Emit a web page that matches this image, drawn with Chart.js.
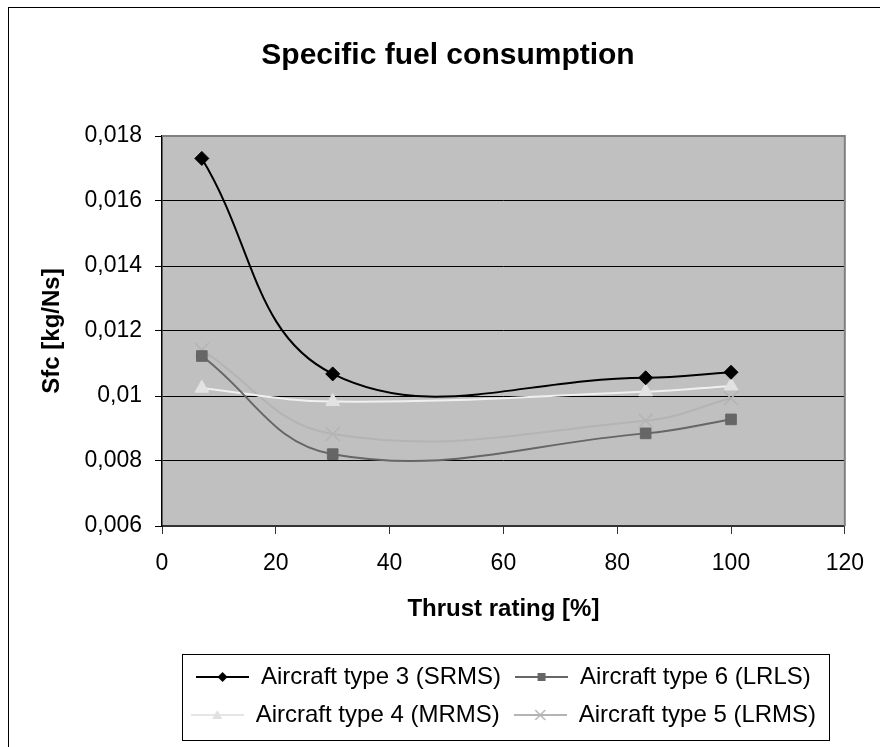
<!DOCTYPE html>
<html>
<head>
<meta charset="utf-8">
<script src="https://cdn.jsdelivr.net/npm/chart.js@4"></script>
<style>
  html, body { margin: 0; padding: 0; background: #fff; overflow: hidden; }
  #frame { position: absolute; left: 8px; top: 7px; width: 900px; height: 800px;
           border-left: 1px solid #000; border-top: 1px solid #000; }
  #wrap { position: absolute; left: 0; top: 0; width: 880px; height: 747px; }
</style>
</head>
<body>
<div id="frame"></div>
<div id="wrap"><canvas id="sfcChart" width="880" height="747"></canvas></div>
<script>
// Specific fuel consumption vs thrust rating
const thrust = [7, 30, 85, 100];
const sfcType3 = [0.01731, 0.01068, 0.01056, 0.01073];
const sfcType6 = [0.01123, 0.00821, 0.00885, 0.00928];
const sfcType4 = [0.01024, 0.00983, 0.01013, 0.01031];
const sfcType5 = [0.01142, 0.00883, 0.00924, 0.00993];
const seriesNames = ['Aircraft type 3 (SRMS)', 'Aircraft type 6 (LRLS)',
                     'Aircraft type 4 (MRMS)', 'Aircraft type 5 (LRMS)'];
const xTicks = [0, 20, 40, 60, 80, 100, 120];
const yTicks = [0.006, 0.008, 0.01, 0.012, 0.014, 0.016, 0.018];

const FONT = 'Liberation Sans';

function points(ys) {
  return thrust.map((x, i) => ({ x: x, y: ys[i] }));
}

// small line+marker images for the legend, like Excel draws them
function legendIcon(lineColor, markerColor, kind) {
  const c = document.createElement('canvas');
  c.width = 53;
  c.height = 24;
  const g = c.getContext('2d');
  g.strokeStyle = lineColor;
  g.lineWidth = 2;
  g.beginPath();
  g.moveTo(0, 12);
  g.lineTo(53, 12);
  g.stroke();
  g.fillStyle = markerColor;
  g.strokeStyle = markerColor;
  const cx = 26.5, cy = 12;
  g.beginPath();
  if (kind === 'diamond') {
    g.moveTo(cx, cy - 5); g.lineTo(cx + 5, cy); g.lineTo(cx, cy + 5); g.lineTo(cx - 5, cy);
    g.closePath(); g.fill();
  } else if (kind === 'square') {
    g.rect(cx - 4, cy - 4, 8, 8); g.fill();
  } else if (kind === 'triangle') {
    g.moveTo(cx, cy - 5); g.lineTo(cx + 5, cy + 4); g.lineTo(cx - 5, cy + 4);
    g.closePath(); g.fill();
  } else {
    g.lineWidth = 1.5;
    g.moveTo(cx - 5, cy - 5); g.lineTo(cx + 5, cy + 5);
    g.moveTo(cx + 5, cy - 5); g.lineTo(cx - 5, cy + 5);
    g.stroke();
  }
  return c;
}

const legendIcons = [
  legendIcon('#000000', '#000000', 'diamond'),
  legendIcon('#666666', '#666666', 'square'),
  legendIcon('#e6e6e6', '#e0e0e0', 'triangle'),
  legendIcon('#b4b4b4', '#b4b4b4', 'cross')
];

const plotAreaPlugin = {
  id: 'plotArea',
  beforeDraw(chart) {
    const { ctx, chartArea: a } = chart;
    ctx.save();
    ctx.fillStyle = '#c0c0c0';
    ctx.fillRect(a.left, a.top, a.right - a.left, a.bottom - a.top);
    ctx.restore();
  },
  beforeDatasetsDraw(chart) {
    const { ctx, chartArea: a } = chart;
    ctx.save();
    ctx.strokeStyle = '#808080';
    ctx.lineWidth = 2;
    ctx.beginPath();
    ctx.moveTo(a.left, a.top);
    ctx.lineTo(a.right, a.top);
    ctx.lineTo(a.right, a.bottom);
    ctx.stroke();
    ctx.restore();
  },
  afterDraw(chart) {
    // frame round the legend
    const boxes = chart.legend.legendHitBoxes;
    if (!boxes || !boxes.length) return;
    let l = Infinity, r = -Infinity, t = Infinity, b = -Infinity;
    boxes.forEach(h => {
      l = Math.min(l, h.left);
      r = Math.max(r, h.left + h.width);
      t = Math.min(t, h.top);
      b = Math.max(b, h.top + h.height);
    });
    const ctx = chart.ctx;
    ctx.save();
    ctx.strokeStyle = '#000';
    ctx.lineWidth = 1;
    ctx.strokeRect(Math.round(l - 9) + 0.5, Math.round(t - 11) + 0.5,
                   Math.round(r - l + 22), Math.round(b - t + 24));
    ctx.restore();
  }
};

const ctx = document.getElementById('sfcChart').getContext('2d');
const sfcChart = new Chart(ctx, {
  type: 'line',
  data: {
    datasets: [
      {
        label: seriesNames[0], data: points(sfcType3),
        borderColor: '#000000', backgroundColor: '#000000', borderWidth: 2,
        pointStyle: 'rectRot', pointRadius: 7, pointBorderWidth: 1
      },
      {
        label: seriesNames[1], data: points(sfcType6),
        borderColor: '#666666', backgroundColor: '#666666', borderWidth: 2,
        pointStyle: 'rect', pointRadius: 7.5, pointBorderWidth: 1
      },
      {
        label: seriesNames[2], data: points(sfcType4),
        borderColor: '#f0f0f0', backgroundColor: '#e2e2e2', borderWidth: 2,
        pointStyle: 'triangle', pointRadius: 8, pointBorderColor: '#e2e2e2', pointBorderWidth: 1
      },
      {
        label: seriesNames[3], data: points(sfcType5),
        borderColor: '#b4b4b4', backgroundColor: '#b4b4b4', borderWidth: 2,
        pointStyle: 'crossRot', pointRadius: 10, pointBorderColor: '#b4b4b4', pointBorderWidth: 1.5
      }
    ]
  },
  options: {
    responsive: false,
    animation: false,
    events: [],
    layout: { padding: { left: 47, right: 31, top: 10, bottom: 10 } },
    elements: { line: { tension: 0.4, fill: false } },
    scales: {
      x: {
        type: 'linear',
        min: 0,
        max: 120,
        afterFit(scale) { scale.height = 125; },
        afterBuildTicks(scale) { scale.ticks = xTicks.map(v => ({ value: v })); },
        border: { display: true, color: '#333333', width: 2 },
        grid: { drawOnChartArea: false, drawTicks: true, tickLength: 8, color: '#333333' },
        ticks: {
          color: '#000', padding: 16,
          font: { family: FONT, size: 23 }
        },
        title: {
          display: true, text: 'Thrust rating [%]', color: '#000',
          font: { family: FONT, size: 24, weight: 'bold' },
          padding: { top: 0, bottom: 27 }
        }
      },
      y: {
        type: 'linear',
        min: 0.006,
        max: 0.018,
        afterFit(scale) { scale.width = 115; },
        afterBuildTicks(scale) { scale.ticks = yTicks.map(v => ({ value: v })); },
        border: { display: true, color: '#000000', width: 1.5 },
        grid: { color: '#000000', lineWidth: 1, drawTicks: true, tickLength: 7, tickColor: '#000' },
        ticks: {
          color: '#000', padding: 13,
          font: { family: FONT, size: 23 },
          callback: v => String(Math.round(v * 1000) / 1000).replace('.', ',')
        },
        title: {
          display: true, text: 'Sfc [kg/Ns]', color: '#000',
          font: { family: FONT, size: 24, weight: 'bold' },
          padding: { top: -9.4, bottom: 0 }
        }
      }
    },
    plugins: {
      title: {
        display: true,
        text: 'Specific fuel consumption',
        color: '#000',
        font: { family: FONT, size: 30, weight: 'bold' },
        padding: { top: 28, bottom: 62 }
      },
      legend: {
        position: 'bottom',
        fullSize: false,
        labels: {
          usePointStyle: true,
          pointStyleWidth: 53,
          boxHeight: 24,
          padding: 14,
          color: '#000',
          font: { family: FONT, size: 24 },
          generateLabels(chart) {
            const items = Chart.defaults.plugins.legend.labels.generateLabels(chart);
            items.forEach((it, i) => { it.pointStyle = legendIcons[i]; });
            return items;
          }
        }
      },
      tooltip: { enabled: false }
    }
  },
  plugins: [plotAreaPlugin]
});
</script>
</body>
</html>
